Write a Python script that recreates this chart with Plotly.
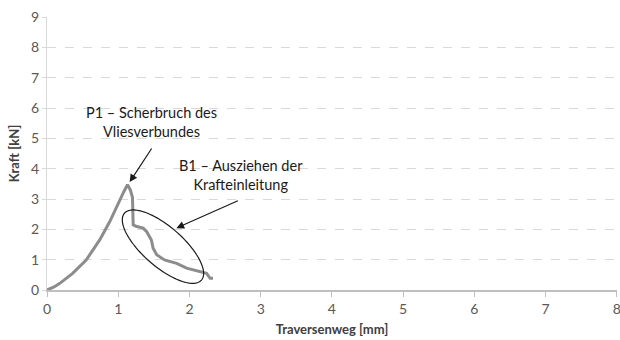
import numpy as np
import plotly.graph_objects as go

# Data
traversenweg = [0, 0.10, 0.18, 0.36, 0.55, 0.74, 0.88, 1.02, 1.08, 1.13, 1.17, 1.20, 1.21, 1.21,
                1.25, 1.35, 1.40, 1.465, 1.49, 1.54, 1.65, 1.82, 1.96, 2.12, 2.24, 2.27, 2.29, 2.33]
kraft = [0, 0.10, 0.22, 0.55, 0.99, 1.65, 2.25, 2.97, 3.25, 3.47, 3.30, 3.05, 2.6, 2.15,
         2.10, 2.04, 1.92, 1.65, 1.38, 1.16, 0.99, 0.88, 0.72, 0.63, 0.55, 0.45, 0.39, 0.39]

x_ticks = [0, 1, 2, 3, 4, 5, 6, 7, 8]
y_ticks = [0, 1, 2, 3, 4, 5, 6, 7, 8, 9]

label_p1 = "P1 – Scherbruch des<br>Vliesverbundes"
label_b1 = "B1 – Ausziehen der<br>Krafteinleitung"

FONT = "Lato"

fig = go.Figure()
fig.add_trace(go.Scatter(x=traversenweg, y=kraft, mode="lines",
                         line=dict(color="#8c8c8c", width=3), showlegend=False,
                         hoverinfo="skip", cliponaxis=False))

# Ellipse (annotation shape) in data coords, derived from pixel scale
px_per_x = 570 / 8.0
px_per_y = 273 / 9.0
cx, cy = 1.628, 1.43
a_px, b_px, ang = 51.0, 20.0, np.deg2rad(41)
t = np.linspace(0, 2 * np.pi, 120)
ex_px = a_px * np.cos(t) * np.cos(ang) - b_px * np.sin(t) * np.sin(ang)
ey_px = a_px * np.cos(t) * np.sin(ang) + b_px * np.sin(t) * np.cos(ang)
ex = cx + ex_px / px_per_x
ey = cy - ey_px / px_per_y
path = "M " + " L ".join(f"{x:.4f},{y:.4f}" for x, y in zip(ex, ey)) + " Z"
fig.add_shape(type="path", path=path, xref="x", yref="y",
              line=dict(color="#1a1a1a", width=1.2))

# Text annotations
fig.add_annotation(x=1.47, y=5.55, text=label_p1, showarrow=False,
                   font=dict(family=FONT, size=14.5, color="#1a1a1a"), align="center")
fig.add_annotation(x=2.72, y=3.80, text=label_b1, showarrow=False,
                   font=dict(family=FONT, size=14.5, color="#1a1a1a"), align="center")
# Arrows
fig.add_annotation(x=1.16, y=3.56, text="", showarrow=True, arrowhead=2, arrowsize=1.3,
                   arrowwidth=1.2, arrowcolor="#1a1a1a", ax=23, ay=-35)
fig.add_annotation(x=1.816, y=2.04, text="", showarrow=True, arrowhead=2, arrowsize=1.3,
                   arrowwidth=1.2, arrowcolor="#1a1a1a", ax=63, ay=-28)

fig.update_layout(
    width=620, height=340,
    margin=dict(l=47, r=3, t=17, b=50),
    paper_bgcolor="white", plot_bgcolor="white",
    font=dict(family=FONT, color="#595959", size=13),
    xaxis=dict(range=[0, 8.002], tickvals=x_ticks, showgrid=False, zeroline=False,
               automargin=False, ticklabeloverflow="allow",
               showline=True, linecolor="#bfbfbf", linewidth=1.5,
               ticks="outside", ticklen=5, tickcolor="#bfbfbf",
               tickfont=dict(size=14, color="#595959"),
               title=dict(text="<b>Traversenweg [mm]</b>", standoff=9,
                          font=dict(size=13, color="#404040"))),
    yaxis=dict(range=[0, 9.002], tickvals=y_ticks, showgrid=True, gridcolor="#d9d9d9",
               griddash="dash", gridwidth=1, zeroline=False, automargin=False,
               ticklabeloverflow="allow",
               showline=True, linecolor="#d9d9d9", linewidth=1,
               ticks="outside", ticklen=4, tickcolor="#d9d9d9",
               tickfont=dict(size=14, color="#595959"),
               title=dict(text="<b>Kraft [kN]</b>", standoff=8,
                          font=dict(size=13, color="#404040"))),
)

# remove the default 8px page margin so the 620x340 figure fills the window
fig.write_html("out.html", config={"displayModeBar": False},
               post_script="document.body.style.margin='0';document.body.style.overflow='hidden';")
